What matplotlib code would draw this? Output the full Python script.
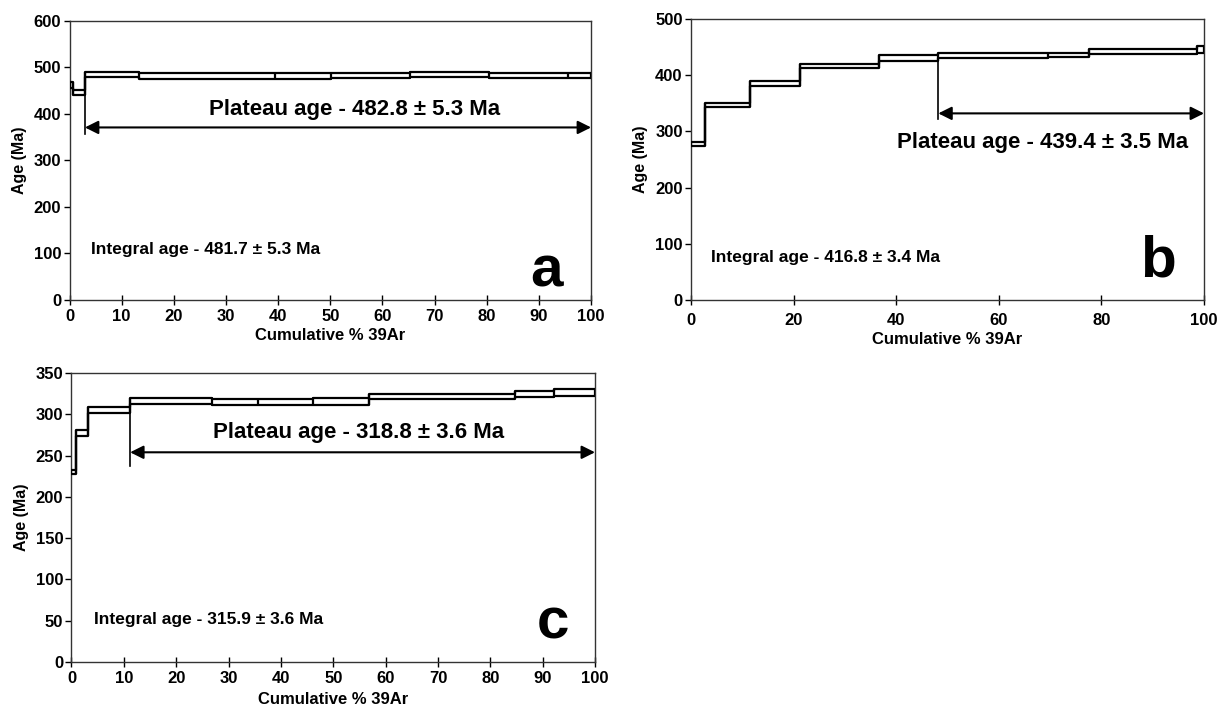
import matplotlib
matplotlib.use("Agg")
import matplotlib.pyplot as plt
import numpy as np

plt.rcParams['font.family'] = ['Liberation Sans', 'DejaVu Sans']
plt.rcParams['font.weight'] = 'bold'

# Panel a: step edges (cumulative % 39Ar) and age box limits (Ma)
a_edges = [0, 0.76, 2.95, 13.3, 39.4, 50.1, 65.3, 80.5, 95.5, 100]
a_lo = [456, 441, 479, 476, 476, 478, 479, 477, 477]
a_hi = [468, 452, 491, 489, 488, 488, 491, 489, 489]

# Panel b
b_edges = [0, 2.8, 11.4, 21.2, 36.6, 48.2, 69.5, 77.5, 98.6, 100]
b_lo = [274, 343, 381, 412, 426, 430, 432, 437, 440]
b_hi = [281, 350, 389, 419, 435, 439, 440, 446, 451]

# Panel c
c_edges = [0, 0.9, 3.2, 11.2, 26.9, 35.6, 46.1, 56.9, 84.8, 92.2, 100]
c_lo = [228, 274, 301, 312, 311, 311, 311, 318, 321, 322]
c_hi = [233, 281, 309, 320, 318, 318, 320, 325, 328, 331]

panels = [
    dict(rect=[0.0569, 0.5775, 0.4268, 0.393], edges=a_edges, lo=a_lo, hi=a_hi,
         ylim=600, ystep=100, xstep=10, plat_start=2.95, plat_y=371, vline=(441, 356),
         plat_text="Plateau age - 482.8 \u00b1 5.3 Ma", plat_pos=(54.6, 410),
         integ_text="Integral age - 481.7 \u00b1 5.3 Ma", integ_pos=(4.2, 108),
         letter="a", letter_pos=(91.5, 62), tpad=3, lpad=3),
    dict(rect=[0.5655, 0.5775, 0.4198, 0.3958], edges=b_edges, lo=b_lo, hi=b_hi,
         ylim=500, ystep=100, xstep=20, plat_start=48.2, plat_y=332, vline=(426, 322),
         plat_text="Plateau age - 439.4 \u00b1 3.5 Ma", plat_pos=(68.5, 280),
         integ_text="Integral age - 416.8 \u00b1 3.4 Ma", integ_pos=(3.9, 75),
         letter="b", letter_pos=(91, 68), tpad=6, lpad=3),
    dict(rect=[0.0585, 0.0676, 0.4284, 0.407], edges=c_edges, lo=c_lo, hi=c_hi,
         ylim=350, ystep=50, xstep=10, plat_start=11.2, plat_y=254, vline=(301, 238),
         plat_text="Plateau age - 318.8 \u00b1 3.6 Ma", plat_pos=(54.8, 278),
         integ_text="Integral age - 315.9 \u00b1 3.6 Ma", integ_pos=(4.3, 51),
         letter="c", letter_pos=(92, 47), tpad=3, lpad=4),
]

fig = plt.figure(figsize=(12.22, 7.10), dpi=100)

for p in panels:
    ax = fig.add_axes(p['rect'])
    edges = np.array(p['edges'])
    lo = np.array(p['lo'])
    hi = np.array(p['hi'])
    # upper and lower outlines of the age steps
    ax.step(edges, np.r_[hi, hi[-1]], where='post', color='black', lw=1.6, zorder=3)
    ax.step(edges, np.r_[lo, lo[-1]], where='post', color='black', lw=1.6, zorder=3)
    # vertical edges joining neighbouring steps
    vmin = np.minimum(np.r_[lo[0], lo], np.r_[lo, lo[-1]])
    vmax = np.maximum(np.r_[hi[0], hi], np.r_[hi, hi[-1]])
    ax.vlines(edges, vmin, vmax, color='black', lw=1.6, zorder=3)

    ax.plot([p['plat_start'], p['plat_start']], list(p['vline']), color='black', lw=1.2, zorder=2)
    ax.annotate('', xy=(100, p['plat_y']), xytext=(p['plat_start'], p['plat_y']),
                arrowprops=dict(arrowstyle='<|-|>', color='black', lw=1.5,
                                mutation_scale=20, shrinkA=0, shrinkB=0))
    ax.text(p['plat_pos'][0], p['plat_pos'][1], p['plat_text'], ha='center', va='center',
            fontsize=16, fontweight='bold')
    ax.text(p['integ_pos'][0], p['integ_pos'][1], p['integ_text'], ha='left', va='center',
            fontsize=12.5, fontweight='bold')
    ax.text(p['letter_pos'][0], p['letter_pos'][1], p['letter'], ha='center', va='center',
            fontsize=42, fontweight='bold')

    ax.set_xlim(0, 100)
    ax.set_ylim(0, p['ylim'])
    ax.set_xticks(np.arange(0, 101, p['xstep']))
    ax.set_yticks(np.arange(0, p['ylim'] + 1, p['ystep']))
    ax.tick_params(axis='x', direction='inout', length=7, width=1, labelsize=12, pad=p['tpad'])
    ax.tick_params(axis='y', direction='out', length=4, width=1, labelsize=12, pad=2)
    for s in ax.spines.values():
        s.set_color('#333333')
        s.set_linewidth(1.0)
    ax.set_xlabel("Cumulative % 39Ar", fontsize=12, fontweight='bold', labelpad=p['lpad'])
    ax.set_ylabel("Age (Ma)", fontsize=11.5, fontweight='bold', labelpad=5)

fig.savefig("out.png", dpi=100)
